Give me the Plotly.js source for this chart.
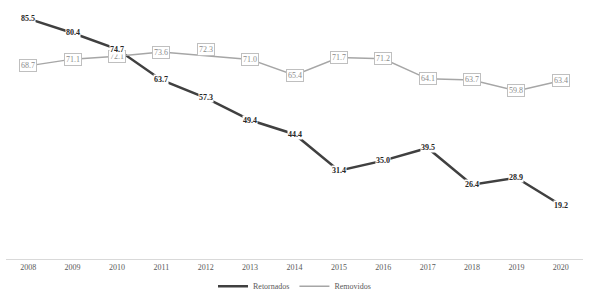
<!DOCTYPE html>
<html><head><meta charset="utf-8">
<script src="https://cdn.plot.ly/plotly-3.0.1.min.js"></script>
<style>html,body{margin:0;padding:0;background:#fff}#c{width:589px;height:291px}</style>
</head><body><div id="c"></div>
<script>
const years = [2008, 2009, 2010, 2011, 2012, 2013, 2014, 2015, 2016, 2017, 2018, 2019, 2020];
const retornados = [85.5, 80.4, 74.7, 63.7, 57.3, 49.4, 44.4, 31.4, 35.0, 39.5, 26.4, 28.9, 19.2];
const removidos = [68.7, 71.1, 72.1, 73.6, 72.3, 71.0, 65.4, 71.7, 71.2, 64.1, 63.7, 59.8, 63.4];
const removidosLabelShift = [0,0,0,0,6,0,0,0,0,0,0,0,0];

const font = 'Liberation Serif';
const traces = [
  {x: years, y: retornados, name: 'Retornados', type: 'scatter', mode: 'lines',
   line: {color: '#404040', width: 2.5}},
  {x: years, y: removidos, name: 'Removidos', type: 'scatter', mode: 'lines',
   line: {color: '#a6a6a6', width: 1.5}}
];
const annotations = [];
for (let i = 0; i < years.length; i++) {
  annotations.push({x: years[i], y: removidos[i], xref: 'x', yref: 'y', text: removidos[i].toFixed(1),
    showarrow: false, yshift: removidosLabelShift[i], font: {family: font, size: 8, color: '#8c8c8c'},
    bgcolor: '#ffffff', bordercolor: '#bfbfbf', borderwidth: 1, borderpad: 1});
  annotations.push({x: years[i], y: retornados[i], xref: 'x', yref: 'y', text: '<b>' + retornados[i].toFixed(1) + '</b>',
    showarrow: false, font: {family: font, size: 8, color: '#262626'},
    bgcolor: '#ffffff', borderpad: 0});
}
const layout = {
  width: 589, height: 291,
  margin: {l: 6, r: 6, t: 6, b: 32, autoexpand: false},
  paper_bgcolor: '#ffffff', plot_bgcolor: '#ffffff',
  font: {family: font, size: 8, color: '#595959'},
  showlegend: true,
  legend: {orientation: 'h', x: 0.5, xanchor: 'center', y: -0.05, yanchor: 'top',
    font: {family: font, size: 8, color: '#595959'}, itemwidth: 30},
  xaxis: {type: 'linear', range: [2007.5, 2020.5], tickmode: 'array', tickvals: years,
    ticktext: years.map(String), showline: true, linecolor: '#d9d9d9', linewidth: 1,
    showgrid: false, zeroline: false, ticks: '', automargin: false,
    tickfont: {family: font, size: 8, color: '#595959'}},
  yaxis: {type: 'linear', range: [0, 90], visible: false, showgrid: false, zeroline: false},
  annotations: annotations
};
Plotly.newPlot('c', traces, layout, {displayModeBar: false});
</script></body></html>
